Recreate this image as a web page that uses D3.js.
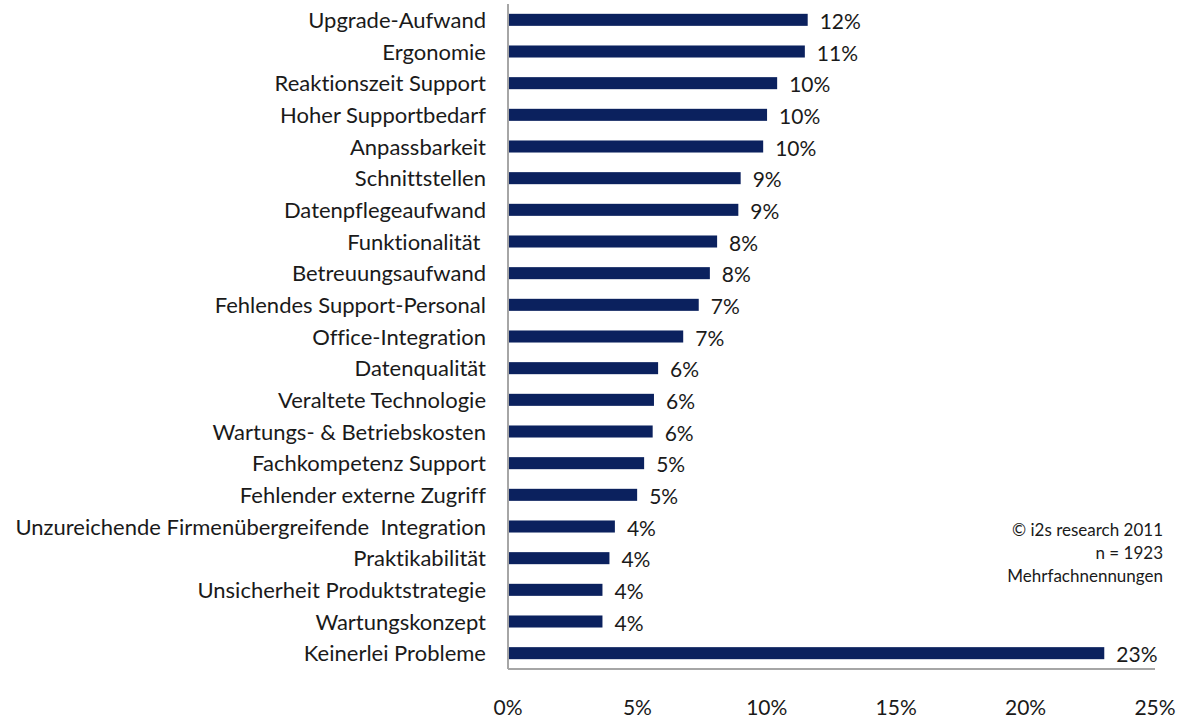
<!DOCTYPE html>
<html>
<head>
<meta charset="utf-8">
<script src="https://cdn.jsdelivr.net/npm/d3@7"></script>
<style>
  body { margin: 0; background: #fff; }
  text { font-family: Lato, "Open Sans", sans-serif; fill: #1a1a1a; font-variant-ligatures: none; }
</style>
</head>
<body>
<div id="chart"></div>
<script>
// Data
var categories = [
  "Upgrade-Aufwand", "Ergonomie", "Reaktionszeit Support", "Hoher Supportbedarf",
  "Anpassbarkeit", "Schnittstellen", "Datenpflegeaufwand", "Funktionalität ",
  "Betreuungsaufwand", "Fehlendes Support-Personal", "Office-Integration",
  "Datenqualität", "Veraltete Technologie", "Wartungs- & Betriebskosten",
  "Fachkompetenz Support", "Fehlender externe Zugriff",
  "Unzureichende Firmenübergreifende  Integration", "Praktikabilität",
  "Unsicherheit Produktstrategie", "Wartungskonzept", "Keinerlei Probleme"
];
var values = [11.58, 11.47, 10.40, 10.01, 9.86, 8.99, 8.90, 8.08, 7.80, 7.37, 6.77,
              5.80, 5.64, 5.59, 5.26, 4.99, 4.13, 3.92, 3.65, 3.65, 23.04];
var ticks  = [0, 5, 10, 15, 20, 25];
var notes  = ["© i2s research 2011", "n = 1923", "Mehrfachnennungen"];

var chart_width  = 1194;
var chart_height = 720;
var plot_left = 508, plot_right = 1155, plot_top = 4, plot_bottom = 669;

var x = d3.scaleLinear().domain([0, 25]).range([plot_left, plot_right]);
var y = d3.scaleBand().domain(categories).range([plot_top, plot_bottom])
  .paddingInner(0.62).paddingOuter(0.31);

var svg = d3.select("#chart").append("svg")
  .attr("width", chart_width)
  .attr("height", chart_height);

// Bars
svg.selectAll("rect.bar")
  .data(values)
  .enter()
  .append("rect")
  .attr("class", "bar")
  .attr("x", x(0))
  .attr("y", (d, i) => y(categories[i]))
  .attr("width", d => x(d) - x(0))
  .attr("height", y.bandwidth())
  .attr("fill", "#0b215e");

// Value labels
svg.selectAll("text.val")
  .data(values)
  .enter()
  .append("text")
  .attr("class", "val")
  .attr("x", d => x(d) + 12)
  .attr("y", (d, i) => y(categories[i]) + y.bandwidth() / 2 + 9)
  .attr("font-size", 21)
  .text(d => Math.round(d) + "%");

// Category labels
svg.selectAll("text.cat")
  .data(categories)
  .enter()
  .append("text")
  .attr("class", "cat")
  .attr("x", 486)
  .attr("y", d => y(d) + y.bandwidth() / 2 + 8)
  .attr("text-anchor", "end")
  .attr("font-size", 22)
  .style("white-space", "pre")
  .text(d => d);

// Axis lines
svg.append("line")
  .attr("x1", plot_left).attr("x2", plot_left)
  .attr("y1", plot_top).attr("y2", plot_bottom)
  .attr("stroke", "#a6a6a6").attr("stroke-width", 2);
svg.append("line")
  .attr("x1", plot_left).attr("x2", plot_right)
  .attr("y1", plot_bottom).attr("y2", plot_bottom)
  .attr("stroke", "#a6a6a6").attr("stroke-width", 2);

// Tick labels
svg.selectAll("text.tick")
  .data(ticks)
  .enter()
  .append("text")
  .attr("class", "tick")
  .attr("x", d => x(d))
  .attr("y", 715)
  .attr("text-anchor", "middle")
  .attr("font-size", 21)
  .text(d => d + "%");

// Notes
svg.selectAll("text.note")
  .data(notes)
  .enter()
  .append("text")
  .attr("class", "note")
  .attr("x", 1163)
  .attr("y", (d, i) => 536 + i * 23)
  .attr("text-anchor", "end")
  .attr("font-size", 17)
  .text(d => d);
</script>
</body>
</html>
